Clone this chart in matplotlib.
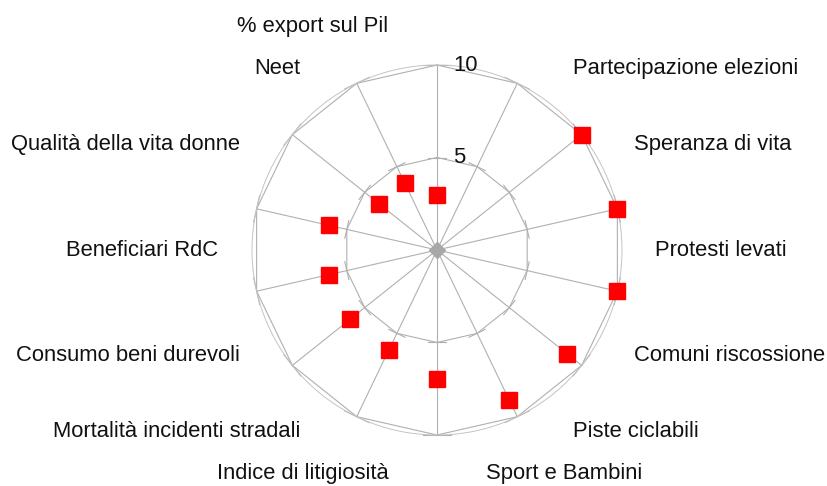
import numpy as np
import matplotlib
matplotlib.use("Agg")
import matplotlib.pyplot as plt

categories = ["% export sul Pil", "", "Partecipazione elezioni", "Speranza di vita",
              "Protesti levati", "Comuni riscossione", "Piste ciclabili",
              "Sport e Bambini", "Indice di litigiosità",
              "Mortalità incidenti stradali", "Consumo beni durevoli",
              "Beneficiari RdC", "Qualità della vita donne", "Neet"]
values = [3, np.nan, 10, 10, 10, 9, 9, 7, 6, 6, 6, 6, 4, 4]
ring_values = [5, 10]
ring_labels = ["5", "10"]

plt.rcParams['font.family'] = ['Liberation Sans', 'DejaVu Sans']

W, H = 828, 486
fig = plt.figure(figsize=(W / 100, H / 100), dpi=100)
cx, cy, R = 437, 250, 185
ax = fig.add_axes([(cx - R) / W, (H - cy - R) / H, 2 * R / W, 2 * R / H], projection='polar')
ax.set_theta_zero_location('N')
ax.set_theta_direction(-1)
ax.set_ylim(0, 10)
ax.axis('off')

n = len(categories)
theta = np.arange(n) * 2 * np.pi / n
grid_c = '#b0b0b0'
lw = 0.8

# spokes
for t in theta:
    ax.plot([t, t], [0, 10], color=grid_c, lw=lw, clip_on=False, zorder=1)

# polygon rings
tc = np.append(theta, theta[0])
for rv in ring_values:
    ax.plot(tc, [rv] * len(tc), color=grid_c, lw=lw, clip_on=False, zorder=1)
    # small perpendicular ticks on every spoke
    d = 0.48 * rv / 10 + 0.25
    for t in theta:
        rr = np.hypot(rv, d)
        dt = np.arctan2(d, rv)
        ax.plot([t - dt, t + dt], [rr, rr], color=grid_c, lw=lw, clip_on=False, zorder=1)

# faint outer circle (doubled look of outer ring)
tt = np.linspace(0, 2 * np.pi, 400)
ax.plot(tt, [10] * len(tt), color='#c4c4c4', lw=0.7, clip_on=False, zorder=1)

# center blob
ax.plot([0], [0], marker='D', color='#a8a8a8', ms=8, zorder=2)

# data markers
ax.plot(theta, values, linestyle='none', marker='s', color='#ff0000', ms=11.5,
        clip_on=False, zorder=3)

# ring labels
for rv, lab in zip(ring_values, ring_labels):
    ax.annotate(lab, xy=(0, rv), xytext=(11.5, 0), textcoords='offset points',
                ha='left', va='center', fontsize=15.8, color='#111111')

# category labels (offset by half a step)
r_lab = 218.5 / R * 10
for t, lab in zip(theta - np.pi / n, categories):
    if not lab:
        continue
    s, c = np.sin(t), np.cos(t)
    ha = 'left' if s > 0.05 else ('right' if s < -0.05 else 'center')
    va = 'bottom' if c > 0.05 else ('top' if c < -0.05 else 'center')
    ax.text(t, r_lab, lab, ha=ha, va=va, fontsize=15.8, color='#111111', clip_on=False)

fig.savefig('out.png', dpi=100)
